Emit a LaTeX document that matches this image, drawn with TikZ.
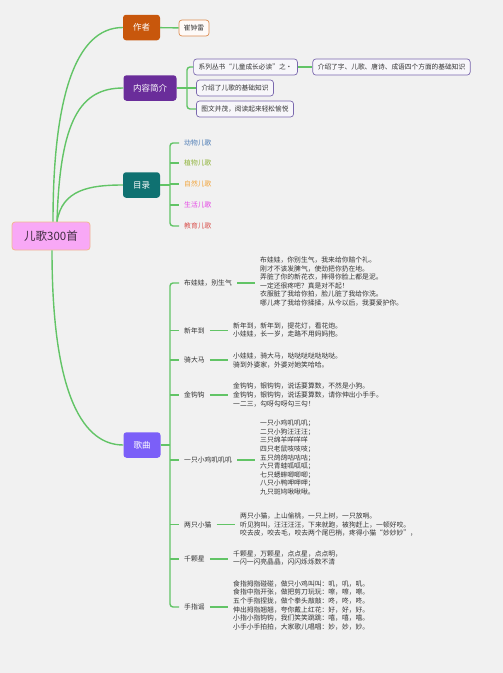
\documentclass[tikz,border=0pt]{standalone}
\usepackage{fontspec}
\setmainfont{Noto Sans CJK SC}
\definecolor{paper}{HTML}{F1F1F1}
\definecolor{branch}{HTML}{62C466}
\definecolor{ink}{HTML}{333333}
\definecolor{rootfill}{HTML}{F8A8F6}
\definecolor{rootline}{HTML}{F2B88E}
\definecolor{authorfill}{HTML}{C8570C}
\definecolor{authorline}{HTML}{DC8B4F}
\definecolor{introfill}{HTML}{6A2D9A}
\definecolor{introline}{HTML}{7A68AE}
\definecolor{tocfill}{HTML}{0F7171}
\definecolor{songfill}{HTML}{7B5FF8}
\definecolor{animalcol}{HTML}{4B7BB5}
\definecolor{plantcol}{HTML}{8FB339}
\definecolor{naturecol}{HTML}{F2A43A}
\definecolor{lifecol}{HTML}{E545E5}
\definecolor{educol}{HTML}{D9534F}

\begin{document}
\begin{tikzpicture}[x=1pt, y=-1pt,
    every node/.style={inner sep=0pt, text=ink, font=\fontsize{6.8}{8.6}\selectfont},
    rootbox/.style={draw=rootline, fill=rootfill, line width=0.8pt, rounded corners=3pt, minimum width=78pt, minimum height=28pt, text=ink!85!violet, font=\fontsize{11.5}{13}\selectfont},
    topic/.style={rounded corners=3pt, minimum width=37pt, minimum height=25.5pt, inner xsep=9.5pt, text=white, font=\fontsize{8.5}{10}\selectfont},
    leafbox/.style={draw=introline, fill=white!94!introline, line width=0.7pt, rounded corners=3pt, minimum height=16pt, inner xsep=5pt, font=\fontsize{6.7}{8}\selectfont},
    entry/.style={anchor=west, inner xsep=5pt},
    lyric/.style={anchor=west, inner xsep=5pt, align=left},
    link/.style={draw=branch, line width=1.4pt},
  ]
  \fill[paper] (0,0) rectangle (503,673);
  \useasboundingbox (0,0) rectangle (503,673);

  % central topic
  \node[rootbox] (root) at (51,236) {儿歌300首};

  % author branch
  \node[topic, fill=authorfill] (author) at (141.5,27.5) {作者};
  \node[leafbox, draw=authorline, fill=white!96!authorline] (cui) at (194,28) {崔钟雷};
  \draw[link] ([xshift=2pt]root.north) .. controls +(0,-122) and +(-48,0) .. (author.west);
  \draw[link] (author) -- (cui);

  % introduction branch
  \node[topic, fill=introfill] (intro) at (150,88) {内容简介};
  \node[leafbox] (i1) at (245.5,67) {系列丛书“儿童成长必读”之·};
  \node[leafbox] (i2) at (235,88) {介绍了儿歌的基础知识};
  \node[leafbox] (i3) at (245,109) {图文并茂，阅读起来轻松愉悦};
  \node[leafbox] (i4) at (391.5,67) {介绍了字、儿歌、唐诗、成语四个方面的基础知识};
  \draw[link] ([xshift=6pt]root.north) .. controls +(3,-102) and +(-43,0) .. (intro.west);
  \draw[link] (intro) -- (i2);
  \draw[link, rounded corners=3pt] (i1.west) -- (187,67) -- (187,109) -- (i3.west);
  \draw[link] (i1) -- (i4);

  % contents branch
  \node[topic, fill=tocfill] (toc) at (141.5,185) {目录};
  \node[entry, text=animalcol] (t1) at (179,143) {动物儿歌};
  \node[entry, text=plantcol] (t2) at (179,163) {植物儿歌};
  \node[entry, text=naturecol] (t3) at (179,184) {自然儿歌};
  \node[entry, text=lifecol] (t4) at (179,205) {生活儿歌};
  \node[entry, text=educol] (t5) at (179,226) {教育儿歌};
  \draw[link] ([xshift=6pt]root.north) .. controls +(5,-32) and +(-33,0) .. (toc.west);
  \draw[link] (toc) -- (170,185);
  \draw[link, rounded corners=3pt] (t1.west) -- (170,143) -- (170,226) -- (t5.west);
  \foreach \t in {t2,t3,t4}
    \draw[link] (170,0 |- \t.west) -- (\t.west);

  % songs branch
  \node[topic, fill=songfill] (songs) at (142,445) {歌曲};
  \draw[link] ([xshift=1pt]root.south) .. controls +(0,150) and +(-38,0) .. (songs.west);
  \draw[link] (songs) -- (170,445);

  \node[entry] (s1) at (179,283) {布娃娃，别生气};
  \node[lyric] (l1) at (255,281.5) {布娃娃，你别生气，我来给你赔个礼。\\刚才不该发脾气，使劲把你扔在地。\\弄脏了你的新花衣，摔得你脸上都是泥。\\一定还很疼吧？真是对不起！\\衣服脏了我给你拍，脸儿脏了我给你洗。\\哪儿疼了我给你揉揉，从今以后，我要爱护你。};
  \node[entry] (s2) at (179,330.5) {新年到};
  \node[lyric] (l2) at (228,330) {新年到，新年到，提花灯，看花炮。\\小娃娃，长一岁，走路不用妈妈抱。};
  \node[entry] (s3) at (179,360) {骑大马};
  \node[lyric] (l3) at (228,360.5) {小娃娃，骑大马，哒哒哒哒哒哒哒。\\骑到外婆家，外婆对她笑哈哈。};
  \node[entry] (s4) at (179,395) {金钩钩};
  \node[lyric] (l4) at (228,395) {金钩钩，银钩钩，说话要算数，不然是小狗。\\金钩钩，银钩钩，说话要算数，请你伸出小手手。\\一二三，勾呀勾呀勾三勾！};
  \node[entry] (s5) at (179,460) {一只小鸡叽叽叽};
  \node[lyric] (l5) at (255,457.5) {一只小鸡叽叽叽；\\二只小狗汪汪汪；\\三只绵羊咩咩咩\\四只老鼠吱吱吱；\\五只鸽鸽咕咕咕；\\六只青蛙呱呱呱；\\七只蟋蟀唧唧唧；\\八只小鸭呷呷呷；\\九只斑鸠啾啾啾。};
  \node[entry] (s6) at (179,524.5) {两只小猫};
  \node[lyric] (l6) at (235,524.5) {两只小猫，上山偷桃，一只上树，一只放哨。\\听见狗叫，汪汪汪汪，下来就跑，被狗赶上，一顿好咬。\\咬去皮，咬去毛，咬去两个尾巴梢，疼得小猫“妙妙妙”，};
  \node[entry] (s7) at (179,559) {千颗星};
  \node[lyric] (l7) at (228,558) {千颗星，万颗星，点点星，点点明，\\一闪一闪亮晶晶，闪闪烁烁数不清};
  \node[entry] (s8) at (179,607) {手指谣};
  \node[lyric] (l8) at (228,605.3) {食指拇指碰碰，做只小鸡叫叫：叽，叽，叽。\\食指中指开张，做把剪刀玩玩：嚓，嚓，嚓。\\五个手指捏拢，做个拳头敲敲：咚，咚，咚。\\伸出拇指翘翘，夸你戴上红花：好，好，好。\\小指小指钩钩，我们笑笑跳跳：嘻，嘻，嘻。\\小手小手拍拍，大家歌儿唱唱：妙，妙，妙。};

  \draw[link, rounded corners=3pt] (s1.west) -- (170,283) -- (170,607) -- (s8.west);
  \foreach \s in {s2,s3,s4,s5,s6,s7}
    \draw[link] (170,0 |- \s.west) -- (\s.west);
  \foreach \s/\l in {s1/l1,s2/l2,s3/l3,s4/l4,s5/l5,s6/l6,s7/l7,s8/l8}
    \draw[link] (\s) -- (\l.west |- \s);
\end{tikzpicture}
\end{document}
